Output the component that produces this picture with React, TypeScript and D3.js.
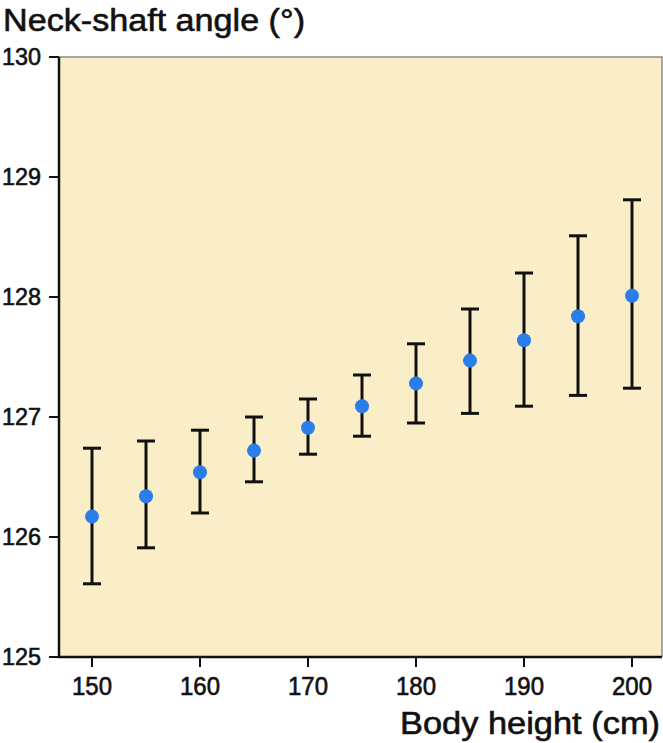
import React, { useEffect, useRef } from "react";
import * as d3 from "d3";

// body height (cm) and neck-shaft angle (deg): mean with error bar ends
const heights = [150, 155, 160, 165, 170, 175, 180, 185, 190, 195, 200];
const means = [126.17, 126.34, 126.54, 126.72, 126.91, 127.09, 127.28, 127.47, 127.64, 127.84, 128.01];
const upper = [126.74, 126.8, 126.89, 127.0, 127.15, 127.35, 127.61, 127.9, 128.2, 128.51, 128.81];
const lower = [125.61, 125.91, 126.2, 126.46, 126.69, 126.84, 126.95, 127.03, 127.09, 127.18, 127.24];

const xTicks = [150, 160, 170, 180, 190, 200];
const yTicks = [125, 126, 127, 128, 129, 130];

const W = 663;
const H = 743;
const FONT = "'Liberation Sans', Arial, Helvetica, sans-serif";
const INK = "#111";

export default function App() {
  const svgRef = useRef<SVGSVGElement | null>(null);

  useEffect(() => {
    const svg = d3.select(svgRef.current);
    svg.selectAll("*").remove();

    const left = 59, right = 662, top = 57, bottom = 657;

    const x = d3.scaleLinear().domain([150, 200]).range([92, 632]);
    const y = d3.scaleLinear().domain([125, 130]).range([bottom, top]);

    // text helper: a light stroke gives the heavier look of the original
    const label = (g: any, s: string | number, px: number, py: number, size: number, len: number, anchor: string) =>
      g.append("text")
        .attr("x", px).attr("y", py)
        .attr("text-anchor", anchor)
        .attr("font-family", FONT).attr("font-size", size)
        .attr("textLength", len).attr("lengthAdjust", "spacingAndGlyphs")
        .attr("fill", INK)
        .attr("stroke", INK).attr("stroke-width", 0.6)
        .text(s);

    // plot panel
    svg.append("rect")
      .attr("x", left).attr("y", top)
      .attr("width", right - left).attr("height", bottom - top)
      .attr("fill", "#f9eec8");

    // grey frame on top and right
    svg.append("path")
      .attr("d", `M${left},${top}H${right}V${bottom}`)
      .attr("fill", "none")
      .attr("stroke", "#8a8a8a")
      .attr("stroke-width", 1.5);

    // black axes on left and bottom
    svg.append("path")
      .attr("d", `M${left},${top}V${bottom}H${right}`)
      .attr("fill", "none")
      .attr("stroke", INK)
      .attr("stroke-width", 2.5);

    // y ticks + labels
    const gy = svg.append("g");
    yTicks.forEach(t => {
      gy.append("line")
        .attr("x1", left - 10).attr("x2", left)
        .attr("y1", y(t)).attr("y2", y(t))
        .attr("stroke", INK).attr("stroke-width", 2);
      label(gy, t, 41, y(t) + 8, 23, 39, "end");
    });

    // x ticks + labels
    const gx = svg.append("g");
    xTicks.forEach(t => {
      gx.append("line")
        .attr("x1", x(t)).attr("x2", x(t))
        .attr("y1", bottom).attr("y2", bottom + 10)
        .attr("stroke", INK).attr("stroke-width", 2);
      label(gx, t, x(t), 695, 25, 40, "middle");
    });

    // error bars
    const cap = 9;
    const bars = svg.append("g")
      .attr("stroke", INK).attr("stroke-width", 3).attr("fill", "none");
    heights.forEach((h, i) => {
      const cx = x(h);
      bars.append("line")
        .attr("x1", cx).attr("x2", cx)
        .attr("y1", y(upper[i])).attr("y2", y(lower[i]));
      bars.append("line")
        .attr("x1", cx - cap).attr("x2", cx + cap)
        .attr("y1", y(upper[i])).attr("y2", y(upper[i]));
      bars.append("line")
        .attr("x1", cx - cap).attr("x2", cx + cap)
        .attr("y1", y(lower[i])).attr("y2", y(lower[i]));
    });

    // mean points
    svg.append("g")
      .selectAll("circle")
      .data(heights)
      .join("circle")
      .attr("cx", d => x(d))
      .attr("cy", (d, i) => y(means[i]))
      .attr("r", 7)
      .attr("fill", "#2b7ee8");

    // titles
    label(svg, "Neck-shaft angle (°)", 3, 31, 31, 302, "start");
    label(svg, "Body height (cm)", 660, 734, 31, 260, "end");
  }, []);

  return (
    <svg
      ref={svgRef}
      width={W}
      height={H}
      style={{ position: "absolute", left: 0, top: 0, background: "#fff" }}
    />
  );
}
